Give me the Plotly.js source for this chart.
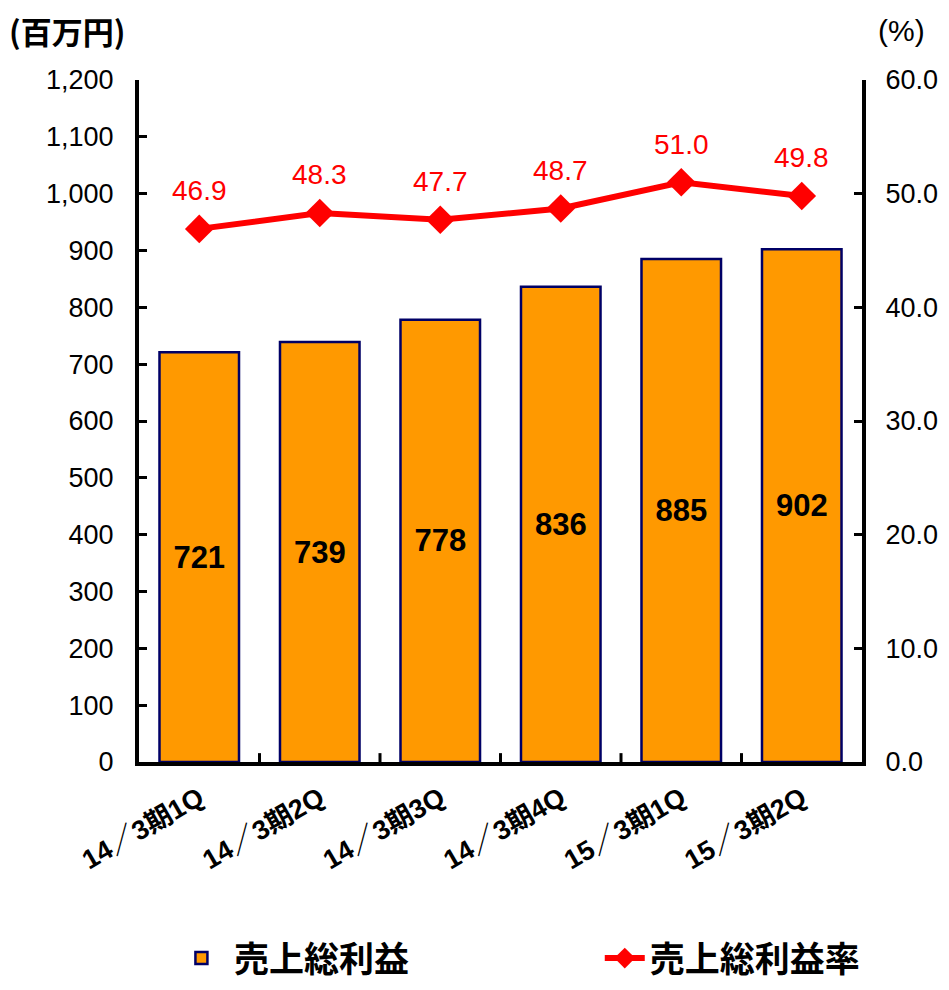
<!DOCTYPE html>
<html><head><meta charset="utf-8">
<script src="https://cdn.plot.ly/plotly-3.0.1.min.js"></script>
<style>body{margin:0;background:#fff}#c{width:949px;height:990px}</style>
</head><body><div id="c"></div>
<script>
const categories = ["14／3期1Q","14／3期2Q","14／3期3Q","14／3期4Q","15／3期1Q","15／3期2Q"];
const grossProfit = [721, 739, 778, 836, 885, 902];
const grossMargin = [46.9, 48.3, 47.7, 48.7, 51.0, 49.8];
const leftTicks = [0,100,200,300,400,500,600,700,800,900,1000,1100,1200];
const rightTicks = [0,10,20,30,40,50,60];

const FONT = "Liberation Sans, Arial, 'Noto Sans CJK JP', sans-serif";
const CJK = "'Noto Sans CJK JP', Liberation Sans, sans-serif";

const traces = [
  {
    type: "bar", name: "売上総利益", x: categories, y: grossProfit, legend: "legend",
    marker: {color: "#FF9900", line: {color: "#000066", width: 2.5}},
    text: grossProfit.map(String), textposition: "inside", insidetextanchor: "middle",
    textfont: {family: FONT, size: 31, color: "#000", weight: "bold"},
    constraintext: "none", cliponaxis: false, hoverinfo: "none"
  },
  {
    type: "scatter", mode: "lines+markers", name: "売上総利益率", x: categories, y: grossMargin,
    yaxis: "y2", legend: "legend2",
    line: {color: "#FF0000", width: 6},
    marker: {symbol: "diamond", size: 22, color: "#FF0000"},
    cliponaxis: false, hoverinfo: "none"
  }
];

const lineLabels = categories.map((c, i) => ({
  text: grossMargin[i].toFixed(1), x: c, y: grossMargin[i], xref: "x", yref: "y2",
  yshift: 38, showarrow: false, xanchor: "center", yanchor: "middle",
  font: {family: FONT, size: 28, color: "#FF0000"}
}));

const legendFont = {family: CJK, size: 35, color: "#000", weight: "bold"};

const layout = {
  width: 949, height: 990,
  margin: {l: 139, r: 87, t: 80, b: 228},
  paper_bgcolor: "#fff", plot_bgcolor: "#fff",
  bargap: 0.34,
  showlegend: true,
  legend: {orientation: "h", xref: "container", yref: "container", x: 0.178, y: 0.032,
    xanchor: "left", yanchor: "middle", font: legendFont, bgcolor: "rgba(0,0,0,0)", itemwidth: 55},
  legend2: {orientation: "h", xref: "container", yref: "container", x: 0.632, y: 0.032,
    xanchor: "left", yanchor: "middle", font: legendFont, bgcolor: "rgba(0,0,0,0)", itemwidth: 40},
  xaxis: {
    type: "category", showline: true, linecolor: "#000", linewidth: 4, mirror: false,
    ticks: "", tickangle: -30, automargin: false,
    tickfont: {family: FONT, size: 27, color: "#000", weight: "bold"},
    showgrid: false, zeroline: false, ticklabelstandoff: 6
  },
  yaxis: {
    range: [0, 1200], tickvals: leftTicks, automargin: false,
    ticktext: leftTicks.map(v => v.toLocaleString("en-US")),
    showline: true, linecolor: "#000", linewidth: 4,
    ticks: "inside", ticklen: 8, tickwidth: 3, tickcolor: "#000",
    tickfont: {family: FONT, size: 27, color: "#000"},
    showgrid: false, zeroline: false, ticklabelstandoff: 16
  },
  yaxis2: {
    range: [0, 60], tickvals: rightTicks, ticktext: rightTicks.map(v => v.toFixed(1)),
    overlaying: "y", side: "right", automargin: false,
    showline: true, linecolor: "#000", linewidth: 4,
    ticks: "inside", ticklen: 8, tickwidth: 3, tickcolor: "#000",
    tickfont: {family: FONT, size: 27, color: "#000"},
    showgrid: false, zeroline: false, ticklabelstandoff: 14
  },
  shapes: categories.slice(0, -1).map((c, i) => ({
    type: "line", xref: "x", yref: "paper", x0: i + 0.5, x1: i + 0.5, y0: 0, y1: 0.013,
    line: {color: "#000", width: 3}
  })),
  annotations: lineLabels.concat([
    {text: "(百万円)", xref: "paper", yref: "paper", x: -0.182, y: 1.073, xanchor: "left", yanchor: "middle",
     showarrow: false, font: {family: CJK, size: 31, color: "#000", weight: "bold"}},
    {text: "(%)", xref: "paper", yref: "paper", x: 1.09, y: 1.073, xanchor: "right", yanchor: "middle",
     showarrow: false, font: {family: FONT, size: 30, color: "#000"}}
  ])
};

Plotly.newPlot("c", traces, layout, {displayModeBar: false, staticPlot: true});
</script></body></html>
